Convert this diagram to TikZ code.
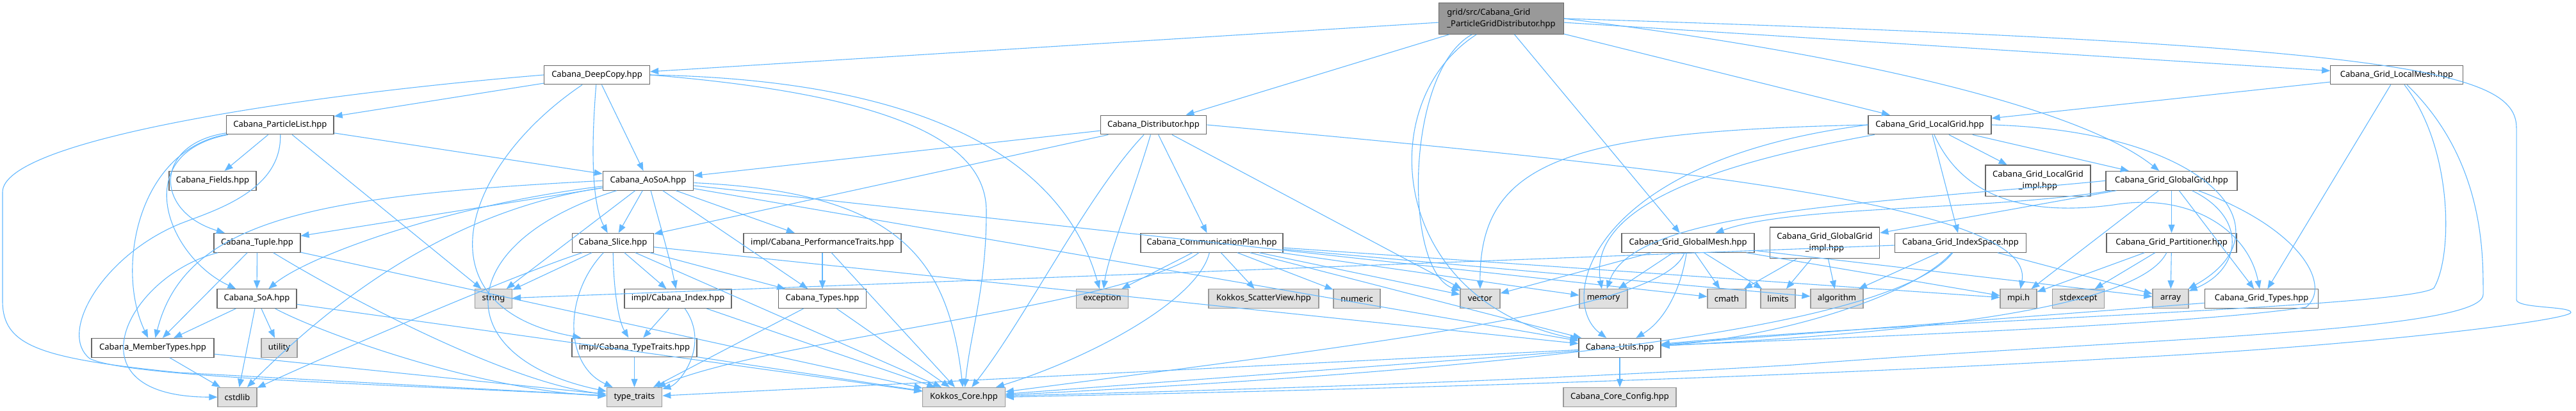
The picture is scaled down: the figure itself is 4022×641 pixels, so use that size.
\documentclass[tikz,border=0pt]{standalone}
\usepackage{fontspec}
\setmainfont{Noto Sans}
\usetikzlibrary{arrows.meta}
\definecolor{edgeblue}{HTML}{63B8FF}
\definecolor{bordgray}{HTML}{666666}
\definecolor{sysborder}{HTML}{999999}
\definecolor{sysfill}{HTML}{E0E0E0}
\definecolor{rootfill}{HTML}{999999}
\newcommand{\nf}{\fontsize{13}{18}\selectfont}
\begin{document}
\begin{tikzpicture}[x=1pt,y=-1pt,
  e/.style={draw=edgeblue, line width=1.1pt, -{Triangle[length=13pt,width=10pt]}},
  nd/.style={draw=bordgray, fill=white, line width=1.2pt, minimum height=29.7pt, inner sep=0pt, font=\nf},
  sys/.style={nd, draw=sysborder, fill=sysfill},
  rootn/.style={nd, fill=rootfill, draw=bordgray, minimum height=48.5pt, align=left},
  two/.style={nd, minimum height=48.8pt, align=center}]
\useasboundingbox (0,0) rectangle (4022,641);
% ---------- nodes ----------
\node[rootn, minimum width=194.5pt] (R) at (2344,29) {grid/src/Cabana\_Grid\\\_ParticleGridDistributor.hpp};
\node[nd, minimum width=165pt] (DC) at (932,117) {Cabana\_DeepCopy.hpp};
\node[nd, minimum width=206.5pt] (LM) at (3742,117) {Cabana\_Grid\_LocalMesh.hpp};
\node[nd, minimum width=167.5pt] (PL) at (437.3,195) {Cabana\_ParticleList.hpp};
\node[nd, minimum width=165.5pt] (Dist) at (1801,195) {Cabana\_Distributor.hpp};
\node[nd, minimum width=192pt] (LG) at (3013,195) {Cabana\_Grid\_LocalGrid.hpp};
\node[nd, minimum width=136pt] (Fields) at (332,282.3) {Cabana\_Fields.hpp};
\node[nd, minimum width=141.5pt] (AoSoA) at (1012,282.3) {Cabana\_AoSoA.hpp};
\node[two, minimum width=164pt] (LGi) at (3182,282.3) {Cabana\_Grid\_LocalGrid\\\_impl.hpp};
\node[nd, minimum width=205pt] (GG) at (3390.5,282.3) {Cabana\_Grid\_GlobalGrid.hpp};
\node[nd, minimum width=135pt] (Tuple) at (401.5,379.3) {Cabana\_Tuple.hpp};
\node[nd, minimum width=127pt] (Slice) at (957,379.3) {Cabana\_Slice.hpp};
\node[nd, minimum width=246pt] (Perf) at (1284,379.3) {impl/Cabana\_PerformanceTraits.hpp};
\node[nd, minimum width=222pt] (Comm) at (1892,379.3) {Cabana\_CommunicationPlan.hpp};
\node[nd, minimum width=207pt] (GM) at (2635.5,379.3) {Cabana\_Grid\_GlobalMesh.hpp};
\node[two, minimum width=171.5pt] (GGi) at (2849,379.3) {Cabana\_Grid\_GlobalGrid\\\_impl.hpp};
\node[nd, minimum width=204.5pt] (IS) at (3061,379.3) {Cabana\_Grid\_IndexSpace.hpp};
\node[nd, minimum width=203pt] (Part) at (3390.5,379.3) {Cabana\_Grid\_Partitioner.hpp};
\node[nd, minimum width=124pt] (SoA) at (401,466.6) {Cabana\_SoA.hpp};
\node[sys, minimum width=58pt] (str) at (770.5,466.6) {string};
\node[nd, minimum width=167pt] (Idx) at (1058.5,466.6) {impl/Cabana\_Index.hpp};
\node[nd, minimum width=136.5pt] (Types) at (1284,466.6) {Cabana\_Types.hpp};
\node[sys, minimum width=81pt] (exc) at (1721,466.6) {exception};
\node[sys, minimum width=172pt] (SV) at (1973,466.6) {Kokkos\_ScatterView.hpp};
\node[sys, minimum width=73pt] (num) at (2118.5,466.6) {numeric};
\node[sys, minimum width=62pt] (vec) at (2311,466.6) {vector};
\node[sys, minimum width=75pt] (mem) at (2503.5,466.6) {memory};
\node[sys, minimum width=60pt] (cmath) at (2696,466.6) {cmath};
\node[sys, minimum width=54pt] (lim) at (2776,466.6) {limits};
\node[sys, minimum width=82pt] (alg) at (2868,466.6) {algorithm};
\node[sys, minimum width=57pt] (mpi) at (3151.5,466.6) {mpi.h};
\node[sys, minimum width=81.5pt] (stdexc) at (3245,466.6) {stdexcept};
\node[sys, minimum width=56pt] (arr) at (3389,466.6) {array};
\node[nd, minimum width=177.5pt] (GT) at (3531,466.6) {Cabana\_Grid\_Types.hpp};
\node[nd, minimum width=191pt] (MT) at (238.5,543.3) {Cabana\_MemberTypes.hpp};
\node[sys, minimum width=56pt] (util) at (436,543.3) {utility};
\node[nd, minimum width=195pt] (ITT) at (990.5,543) {impl/Cabana\_TypeTraits.hpp};
\node[nd, minimum width=128pt] (Utils) at (2529,543.3) {Cabana\_Utils.hpp};
\node[sys, minimum width=61pt] (cstd) at (370.5,620.3) {cstdlib};
\node[sys, minimum width=86.5pt] (TT) at (990.5,620.3) {type\_traits};
\node[sys, minimum width=128.5pt] (KC) at (1505,620.3) {Kokkos\_Core.hpp};
\node[sys, minimum width=176pt] (Cfg) at (2529,620.3) {Cabana\_Core\_Config.hpp};
% ---------- edges: root ----------
\draw[e] (R) -- (DC);
\draw[e] (R) -- (Dist);
\draw[e] (R) .. controls (2195,110) and (2190,420) .. (vec);
\draw[e] (R) .. controls (2140,160) and (2170,470) .. (Utils);
\draw[e] (R) -- (GM);
\draw[e] (R) -- (LG);
\draw[e] (R.east) .. controls (2900,85) and (3250,170) .. (GG);
\draw[e] (R) -- (LM);
\draw[e] (R.east) .. controls (3750,70) and (3929,110) .. (3929,200) -- (3929,468) .. controls (3929,482) and (4014,478) .. (4014,488) .. controls (4014,500) and (3700,540) .. (3300,560) .. controls (2600,600) and (1800,615) .. (KC.east);
% ---------- DeepCopy ----------
\draw[e] (DC) -- (PL);
\draw[e] (DC.west) .. controls (450,150) and (4,220) .. (4,300) -- (4,470) .. controls (4,540) and (60,560) .. (280,582) -- (TT);
\draw[e] (DC) -- (AoSoA);
\draw[e] (DC) .. controls (922,240) and (925,320) .. (Slice);
\draw[e] (DC) .. controls (720,260) and (650,480) .. (ITT);
\draw[e] (DC.east) .. controls (1450,125) and (1660,250) .. (exc);
\draw[e] (DC.east) .. controls (1420,150) and (1540,230) .. (1540,330) .. controls (1540,450) and (1515,520) .. (KC);
% ---------- ParticleList ----------
\draw[e] (PL) -- (Fields);
\draw[e] (PL) .. controls (215,235) and (180,420) .. (MT);
\draw[e] (PL) .. controls (240,225) and (240,330) .. (Tuple);
\draw[e] (PL) .. controls (200,240) and (260,400) .. (SoA);
\draw[e] (PL) -- (AoSoA);
\draw[e] (PL) -- (str);
\draw[e] (PL) .. controls (440,300) and (330,330) .. (280,350) .. controls (160,400) and (90,520) .. (140,560) .. controls (200,590) and (600,600) .. (TT);
% ---------- AoSoA ----------
\draw[e] (AoSoA.west) .. controls (500,305) and (290,340) .. (MT);
\draw[e] (AoSoA) -- (Tuple);
\draw[e] (AoSoA) .. controls (700,320) and (480,400) .. (SoA);
\draw[e] (AoSoA) .. controls (700,330) and (520,470) .. (cstd);
\draw[e] (AoSoA) -- (str);
\draw[e] (AoSoA) .. controls (700,380) and (700,560) .. (TT);
\draw[e] (AoSoA) -- (Slice);
\draw[e] (AoSoA) .. controls (1030,350) and (1045,400) .. (Idx);
\draw[e] (AoSoA) -- (Types);
\draw[e] (AoSoA) -- (Perf);
\draw[e] (AoSoA) -- (Utils);
\draw[e] (AoSoA) .. controls (1400,300) and (1480,400) .. (KC);
\draw[e] (AoSoA) -- (cmath);
% ---------- Slice ----------
\draw[e] (Slice) -- (str);
\draw[e] (Slice) .. controls (880,460) and (880,570) .. (TT);
\draw[e] (Slice) .. controls (958,450) and (965,500) .. (ITT);
\draw[e] (Slice) -- (Idx);
\draw[e] (Slice) -- (Types);
\draw[e] (Slice) -- (Utils);
\draw[e] (Slice) -- (KC);
\draw[e] (Slice) .. controls (800,430) and (500,560) .. (cstd);
% ---------- Tuple / SoA / MemberTypes ----------
\draw[e] (Tuple) .. controls (200,430) and (100,620) .. (cstd);
\draw[e] (Tuple) -- (MT);
\draw[e] (Tuple) -- (SoA);
\draw[e] (Tuple) .. controls (550,470) and (800,600) .. (TT);
\draw[e] (Tuple) -- (KC);
\draw[e] (SoA) -- (MT);
\draw[e] (SoA) -- (cstd);
\draw[e] (SoA) -- (util);
\draw[e] (SoA) .. controls (500,520) and (750,610) .. (TT);
\draw[e] (SoA) -- (KC);
\draw[e] (MT) -- (cstd);
\draw[e] (MT) -- (TT);
% ---------- Types / Index / TypeTraits / Perf / Utils ----------
\draw[e] (Types) -- (TT);
\draw[e] (Types) -- (KC);
\draw[e] (Idx) -- (ITT);
\draw[e] (Idx) .. controls (1110,540) and (1060,600) .. (TT);
\draw[e] (Idx) -- (KC);
\draw[e] (ITT) -- (TT);
\draw[e] (ITT) -- (KC);
\draw[e] (Perf) -- (Types);
\draw[e] (Perf) -- (KC);
\draw[e] (Utils) -- (Cfg);
\draw[e] (Utils) -- (TT);
\draw[e] (Utils) -- (KC);
% ---------- Distributor ----------
\draw[e] (Dist) -- (AoSoA);
\draw[e] (Dist) -- (Slice);
\draw[e] (Dist) .. controls (1700,300) and (1600,500) .. (KC);
\draw[e] (Dist) .. controls (1770,300) and (1730,400) .. (exc);
\draw[e] (Dist) -- (Comm);
\draw[e] (Dist) -- (vec);
\draw[e] (Dist.east) .. controls (2600,260) and (3180,320) .. (mpi);
% ---------- CommunicationPlan ----------
\draw[e] (Comm) -- (exc);
\draw[e] (Comm) .. controls (1760,480) and (1200,530) .. (TT);
\draw[e] (Comm) .. controls (1870,470) and (1700,560) .. (KC);
\draw[e] (Comm) -- (SV);
\draw[e] (Comm) -- (num);
\draw[e] (Comm) -- (vec);
\draw[e] (Comm) -- (mem);
\draw[e] (Comm) -- (Utils);
\draw[e] (Comm) -- (alg);
\draw[e] (Comm) -- (mpi);
% ---------- GlobalMesh ----------
\draw[e] (GM) -- (vec);
\draw[e] (GM) -- (mem);
\draw[e] (GM) .. controls (2600,480) and (2200,530) .. (KC);
\draw[e] (GM) .. controls (2625,450) and (2600,500) .. (Utils);
\draw[e] (GM) -- (cmath);
\draw[e] (GM) -- (lim);
\draw[e] (GM) -- (mpi);
\draw[e] (GM) -- (arr);
% ---------- LocalGrid ----------
\draw[e] (LG.west) .. controls (2450,205) and (2310,250) .. (vec);
\draw[e] (LG.west) .. controls (2480,250) and (2430,470) .. (Utils);
\draw[e] (LG) .. controls (2650,260) and (2480,330) .. (mem);
\draw[e] (LG) -- (LGi);
\draw[e] (LG) -- (GG);
\draw[e] (LG) -- (IS);
\draw[e] (LG.east) .. controls (3450,205) and (3580,360) .. (arr);
\draw[e] (LG) .. controls (3060,300) and (3150,340) .. (3300,320) .. controls (3420,300) and (3510,360) .. (GT);
% ---------- GlobalGrid ----------
\draw[e] (GG) -- (GGi);
\draw[e] (GG) .. controls (3100,330) and (2800,320) .. (GM);
\draw[e] (GG) -- (Part);
\draw[e] (GG) -- (mpi);
\draw[e] (GG) .. controls (3510,340) and (3500,420) .. (arr);
\draw[e] (GG) -- (GT);
\draw[e] (GG) .. controls (3600,360) and (3640,450) .. (3600,480) .. controls (3400,510) and (2800,530) .. (Utils);
\draw[e] (GG.west) .. controls (2900,320) and (2550,330) .. (mem);
% ---------- Partitioner / IndexSpace / GlobalGrid_impl / Types ----------
\draw[e] (Part) -- (mpi);
\draw[e] (Part) -- (stdexc);
\draw[e] (Part) -- (arr);
\draw[e] (Part) .. controls (3340,480) and (3000,520) .. (Utils);
\draw[e] (IS) -- (str);
\draw[e] (IS) -- (alg);
\draw[e] (IS) .. controls (2980,470) and (2750,530) .. (Utils);
\draw[e] (IS) .. controls (2950,520) and (2300,580) .. (KC);
\draw[e] (IS) -- (arr);
\draw[e] (GGi) -- (cmath);
\draw[e] (GGi) -- (lim);
\draw[e] (GGi) -- (alg);
\draw[e] (GT) -- (Utils);
% ---------- LocalMesh ----------
\draw[e] (LM) -- (LG);
\draw[e] (LM) -- (GT);
\draw[e] (LM) .. controls (3830,230) and (3830,400) .. (3800,450) .. controls (3760,480) and (3000,500) .. (Utils);
\draw[e] (LM) .. controls (3880,250) and (3877,400) .. (3877,460) .. controls (3877,520) and (3300,530) .. (2800,570) .. controls (2300,600) and (1800,612) .. (KC);
\end{tikzpicture}
\end{document}
